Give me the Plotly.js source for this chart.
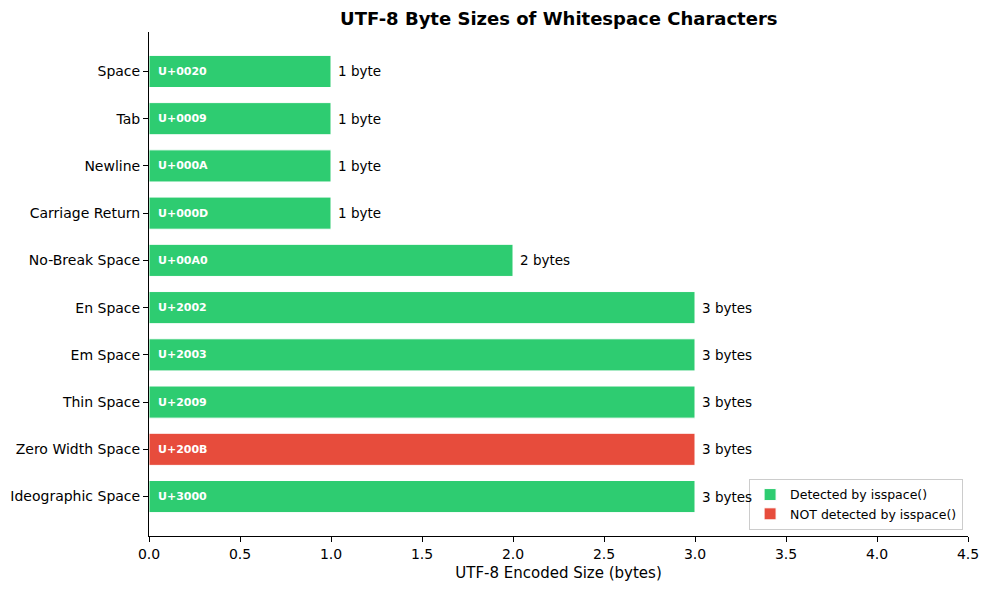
<!DOCTYPE html>
<html>
<head>
<meta charset="utf-8">
<script src="https://cdn.plot.ly/plotly-3.0.1.min.js"></script>
<style>html,body{margin:0;padding:0;background:#fff;}#chart{width:989px;height:590px;}</style>
</head>
<body>
<div id="chart"></div>
<script>
const names = ["Space","Tab","Newline","Carriage Return","No-Break Space","En Space","Em Space","Thin Space","Zero Width Space","Ideographic Space"];
const codes = ["U+0020","U+0009","U+000A","U+000D","U+00A0","U+2002","U+2003","U+2009","U+200B","U+3000"];
const bytes = [1,1,1,1,2,3,3,3,3,3];
const detected = [true,true,true,true,true,true,true,true,false,true];
const tickVals = [0,0.5,1,1.5,2,2.5,3,3.5,4,4.5];

const green = "#2ecc71", red = "#e74c3c";
function subset(flag){
  const y=[], x=[];
  names.forEach((n,i)=>{ if(detected[i]===flag){ y.push(n); x.push(bytes[i]); } });
  return {x,y};
}
const d1 = subset(true), d2 = subset(false);
const font = "DejaVu Sans, sans-serif";
const traces = [
  {type:"bar", orientation:"h", x:d1.x, y:d1.y, name:"Detected by isspace()", width:0.68,
   marker:{color:green, line:{color:"#ffffff", width:1}}, hoverinfo:"skip"},
  {type:"bar", orientation:"h", x:d2.x, y:d2.y, name:"NOT detected by isspace()", width:0.68,
   marker:{color:red, line:{color:"#ffffff", width:1}}, hoverinfo:"skip"}
];
const annotations = [];
names.forEach((n,i)=>{
  annotations.push({x:0.04, y:n, xref:"x", yref:"y", text:"<b>"+codes[i]+"</b>", showarrow:false,
    xanchor:"left", yanchor:"middle", font:{family:font, size:11, color:"#ffffff"}});
  annotations.push({x:bytes[i]+0.03, y:n, xref:"x", yref:"y", text:bytes[i]+(bytes[i]===1?" byte":" bytes"), showarrow:false,
    xanchor:"left", yanchor:"middle", font:{family:font, size:13.5, color:"#000000"}});
});
const layout = {
  width:989, height:590,
  paper_bgcolor:"#ffffff", plot_bgcolor:"#ffffff",
  margin:{l:149, r:21, t:32, b:54},
  barmode:"overlay",
  showlegend:true,
  title:{text:"<b>UTF-8 Byte Sizes of Whitespace Characters</b>", x:0.565, xanchor:"center", y:0.968, yanchor:"middle",
    font:{family:font, size:18, color:"#000"}},
  xaxis:{range:[0,4.5], tickvals:tickVals, tickformat:".1f", ticks:"outside", ticklen:5, tickcolor:"#000",
    showline:true, linecolor:"#000", linewidth:1, showgrid:false, zeroline:false,
    tickfont:{family:font, size:14, color:"#000"},
    title:{text:"UTF-8 Encoded Size (bytes)", font:{family:font, size:15, color:"#000"}, standoff:6}},
  yaxis:{type:"category", categoryorder:"array", categoryarray:names, range:[9.835,-0.835],
    ticks:"outside", ticklen:5, tickcolor:"#000", showline:true, linecolor:"#000", linewidth:1,
    showgrid:false, zeroline:false, tickfont:{family:font, size:14, color:"#000"}},
  legend:{x:0.994, y:0.012, xanchor:"right", yanchor:"bottom", bgcolor:"rgba(255,255,255,0.8)",
    bordercolor:"#cccccc", borderwidth:1, font:{family:font, size:12.5, color:"#000"}, tracegroupgap:0,
    itemwidth:30},
  annotations:annotations
};
Plotly.newPlot("chart", traces, layout, {displayModeBar:false, staticPlot:true});
</script>
</body>
</html>
